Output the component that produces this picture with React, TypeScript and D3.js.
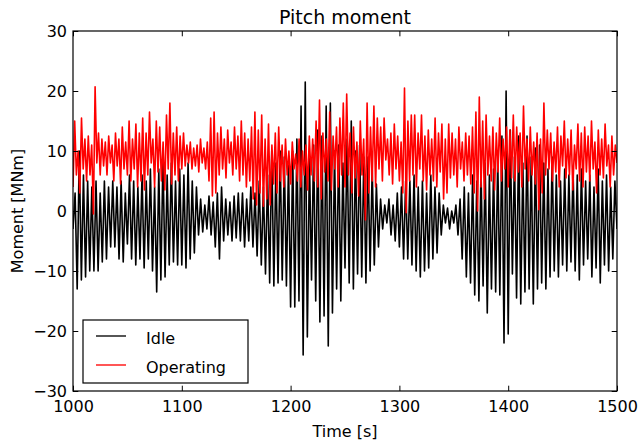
import React, { useEffect, useRef } from "react";
import * as d3 from "d3";

// Idle: one trough + one peak per wave cycle (~3.85 s)
const idleTroughs = [
  -3, -13, -11.5, -11, -10, -10, -10, -8.5, -8, -6,
  -6, -8, -8.5, -5.5, -8, -9, -8, -9.5, -8, -10,
  -13.5, -11.5, -11, -9, -8.5, -9, -9, -9.5, -8, -7,
  -4, -3.5, -3, -4, -6, -8, -5, -4, -5, -4.5,
  -5, -6, -5, -6, -7.5, -9, -10.5, -12, -12.5, -12,
  -11.5, -12.5, -16, -16, -15, -24, -21, -11.5, -15, -18.5,
  -17.5, -22.5, -17, -13, -15, -9.5, -12, -13, -10.5, -11,
  -12, -10, -9, -6, -3, -2, -4, -5, -6, -8,
  -8, -9, -10, -11, -10, -9.5, -8, -7, -4, -2,
  -3, -2, -4, -8, -11, -12, -14, -15, -12.5, -17,
  -13, -13.5, -14, -22, -20.5, -10.5, -14.5, -15.5, -13.5, -13,
  -15.5, -13, -12, -13, -11, -10, -11, -9, -10, -8.5,
  -10, -11.5, -9, -8, -11, -9.5, -12, -9, -10, -8,
];
const idlePeaks = [
  3, 10, 6, 5, 4, 5, 3, 5, 4, 5,
  4, 5, 3, 6, 5, 4, 6, 5, 7, 4,
  7, 9, 6, 8, 5, 7, 6, 8, 5, 4,
  2, 1, 2.5, 1.5, 3, 4, 2, 1.5, 2.5, 3,
  3, 2, 4, 3, 5, 4, 6, 10, 8, 10,
  9, 8, 10, 12, 17.5, 21.5, 9, 11, 13.5, 12.5,
  17.5, 18, 10, 11, 8, 12, 15, 10, 11, 9,
  9, 7, 4.5, 2, 1, 2, 1, 3, 4, 5,
  5, 6, 4, 5, 3, 6, 4, 3, 1, 0.5,
  0, 1, 2, 4, 3, 6, 5, 7, 8, 6,
  7, 9, 12.5, 20, 13.5, 9, 12.5, 8, 12.5, 9,
  10.5, 11, 8, 7, 9, 6, 5, 7, 6, 7,
  6, 7, 5, 6, 4, 7, 5, 6, 4, 5,
];
const idleEnd = -3;

// Operating: one trough + one peak per cycle (~3.1 s)
const opTroughs = [
  4, 6, 3, 7, 5, 6, -0.5, 8, 6, 7.5,
  6, 8, 5, 7.5, 4.5, 7, 6, 5, 7, 4,
  5, 3.5, 6, 8, 4, 6.5, 5, 3.5, 7, 4.5,
  6, 5, 7, 7.5, 8, 7, 7.5, 6.5, 8, 7,
  5, 2.5, 3, 6, 7, 5.5, 8, 6, 7, 5,
  6, 4, 5, 2, 1, 3, 0.8, 2, 1, 4.5,
  3, 5, 4, 6, 4.5, 7, 5, 4, 6, 3.5,
  6, 5, 4, 2, 6.5, 5, 3.5, 7, 4, 6,
  4, 6, 3, 5.5, 2.5, 6, -1.5, 3, 5, 4,
  7, 5, 8.5, 6, 4.5, 7, 5, 3, -0.3, 5,
  6, 4, 7, 5, 3.5, 6, 5, 4, 6.5, 2,
  3, 5.5, 6, 4, 7, 5, 6, 4.5, 3, 0,
  4, 2, 6, 5, 3.5, 6.5, 5, 7, 4, 5.5,
  5, 6.5, 4, 7, 5, 6, 4.5, 0.2, 3, 6,
  7, 5, 6.5, 4, 7.5, 5.5, 6, 3.5, 7, 5,
  4, 6.5, 5, 7, 3, 6, 5.5, 7.5, 4, 6,
];
const opPeaks = [
  15, 10, 15.5, 12, 12.5, 11, 20.7, 13, 12, 11.5,
  12.5, 11, 13, 12, 14, 11.5, 15, 12, 14.5, 13,
  15.5, 13, 16.5, 12, 15, 14, 11.5, 16, 18, 13,
  14, 12.5, 13, 11, 11.5, 10.5, 11, 12, 10.5, 11.5,
  15.5, 16.5, 13, 14, 12, 13.5, 11.5, 14, 12.5, 15,
  13, 12, 14, 16.5, 13.5, 16, 12, 14.5, 11, 13,
  14, 11, 12, 10, 11.5, 9.5, 12, 10, 11, 12.5,
  12, 15, 18.5, 13, 12, 16.5, 12.5, 14, 15.5, 18,
  19.5, 13, 14, 11.5, 15, 12, 18, 14, 17.5, 15.5,
  14, 15.5, 12, 13, 14.5, 12.5, 11.5, 20.5, 15, 16,
  16, 13, 16, 12.5, 13.5, 12, 15.5, 13, 14.5, 12,
  14.5, 13, 12, 14, 11.5, 13, 12.5, 14, 16.5, 19,
  15, 16, 12.5, 14, 13, 15.5, 12, 14, 13.5, 16,
  14, 13, 17.5, 12, 14, 11.5, 13, 12, 18, 13.5,
  13, 11.5, 14, 12.5, 15, 12, 13.5, 11, 14.5, 13,
  14, 12.5, 15, 11.5, 13.5, 12, 14.5, 11, 12.5, 11,
];
const opEnd = 8;

const tStart = 1000;
const tEnd = 1500;
const xTicks = [1000, 1100, 1200, 1300, 1400, 1500];
const yTicks = [-30, -20, -10, 0, 10, 20, 30];
const seriesNames = ["Idle", "Operating"];
const seriesColors = ["#000000", "#ff0000"];

type Pt = { t: number; v: number };

// troughs and peaks alternate at an even sampling step
function weave(troughs: number[], peaks: number[], end: number): Pt[] {
  const n = troughs.length * 2;
  const step = (tEnd - tStart) / n;
  const out: Pt[] = [];
  troughs.forEach((tr, i) => {
    out.push({ t: tStart + 2 * i * step, v: tr });
    out.push({ t: tStart + (2 * i + 1) * step, v: peaks[i] });
  });
  out.push({ t: tEnd, v: end });
  return out;
}

const App = () => {
  const ref = useRef<SVGSVGElement>(null);

  useEffect(() => {
    const width = 638;
    const height = 442;
    const margin = { top: 31, right: 21, bottom: 51, left: 73 };
    const font = "DejaVu Sans, sans-serif";

    const svg = d3.select(ref.current);
    svg.selectAll("*").remove();
    svg.attr("width", width).attr("height", height).style("background", "#fff");

    const x = d3.scaleLinear().domain([tStart, tEnd]).range([margin.left, width - margin.right]);
    const y = d3.scaleLinear().domain([-30, 30]).range([height - margin.bottom, margin.top]);

    const data = [weave(idleTroughs, idlePeaks, idleEnd), weave(opTroughs, opPeaks, opEnd)];

    const line = d3
      .line<Pt>()
      .x((d) => x(d.t))
      .y((d) => y(d.v));

    svg
      .append("defs")
      .append("clipPath")
      .attr("id", "plotclip")
      .append("rect")
      .attr("x", margin.left)
      .attr("y", margin.top)
      .attr("width", width - margin.left - margin.right)
      .attr("height", height - margin.top - margin.bottom);

    const g = svg.append("g").attr("clip-path", "url(#plotclip)");
    data.forEach((d, i) => {
      g.append("path")
        .datum(d)
        .attr("fill", "none")
        .attr("stroke", seriesColors[i])
        .attr("stroke-width", 1.6)
        .attr("stroke-linejoin", "round")
        .attr("d", line);
    });

    const tick = 5.3;
    const styleAxis = (sel: d3.Selection<SVGGElement, unknown, null, undefined>) => {
      sel.select(".domain").remove();
      sel.selectAll(".tick line").attr("stroke", "#000").attr("stroke-width", 1);
      sel.selectAll(".tick text").attr("font-family", font).attr("font-size", 16).attr("fill", "#000");
    };

    svg
      .append("g")
      .attr("transform", `translate(0,${height - margin.bottom})`)
      .call(d3.axisBottom(x).tickValues(xTicks).tickSizeInner(-tick).tickSizeOuter(0).tickPadding(10).tickFormat(d3.format("d")))
      .call(styleAxis);
    svg
      .append("g")
      .attr("transform", `translate(0,${margin.top})`)
      .call(d3.axisTop(x).tickValues(xTicks).tickSizeInner(-tick).tickSizeOuter(0).tickFormat(() => ""))
      .call(styleAxis);
    svg
      .append("g")
      .attr("transform", `translate(${margin.left},0)`)
      .call(d3.axisLeft(y).tickValues(yTicks).tickSizeInner(-tick).tickSizeOuter(0).tickPadding(6).tickFormat(d3.format("d")))
      .call(styleAxis);
    svg
      .append("g")
      .attr("transform", `translate(${width - margin.right},0)`)
      .call(d3.axisRight(y).tickValues(yTicks).tickSizeInner(-tick).tickSizeOuter(0).tickFormat(() => ""))
      .call(styleAxis);

    // frame
    svg
      .append("rect")
      .attr("x", margin.left)
      .attr("y", margin.top)
      .attr("width", width - margin.left - margin.right)
      .attr("height", height - margin.top - margin.bottom)
      .attr("fill", "none")
      .attr("stroke", "#000")
      .attr("stroke-width", 1.2);

    svg
      .append("text")
      .attr("x", (margin.left + width - margin.right) / 2)
      .attr("y", 24)
      .attr("text-anchor", "middle")
      .attr("font-family", font)
      .attr("font-size", 19)
      .text("Pitch moment");

    svg
      .append("text")
      .attr("x", (margin.left + width - margin.right) / 2)
      .attr("y", 437)
      .attr("text-anchor", "middle")
      .attr("font-family", font)
      .attr("font-size", 16)
      .text("Time [s]");

    svg
      .append("text")
      .attr("transform", `translate(23,${(margin.top + height - margin.bottom) / 2}) rotate(-90)`)
      .attr("text-anchor", "middle")
      .attr("font-family", font)
      .attr("font-size", 16)
      .text("Moment [MNm]");

    // legend
    const lg = svg.append("g");
    lg.append("rect")
      .attr("x", 83)
      .attr("y", 320)
      .attr("width", 165)
      .attr("height", 63)
      .attr("fill", "#fff")
      .attr("stroke", "#000")
      .attr("stroke-width", 1.2);
    seriesNames.forEach((name, i) => {
      const ly = 336 + i * 29;
      lg.append("line")
        .attr("x1", 96)
        .attr("x2", 126)
        .attr("y1", ly)
        .attr("y2", ly)
        .attr("stroke", seriesColors[i])
        .attr("stroke-width", 1.33);
      lg.append("text")
        .attr("x", 146)
        .attr("y", ly + 8)
        .attr("font-family", font)
        .attr("font-size", 16)
        .text(name);
    });
  }, []);

  return <svg ref={ref} style={{ position: "absolute", left: 0, top: 0 }}></svg>;
};

export default App;
